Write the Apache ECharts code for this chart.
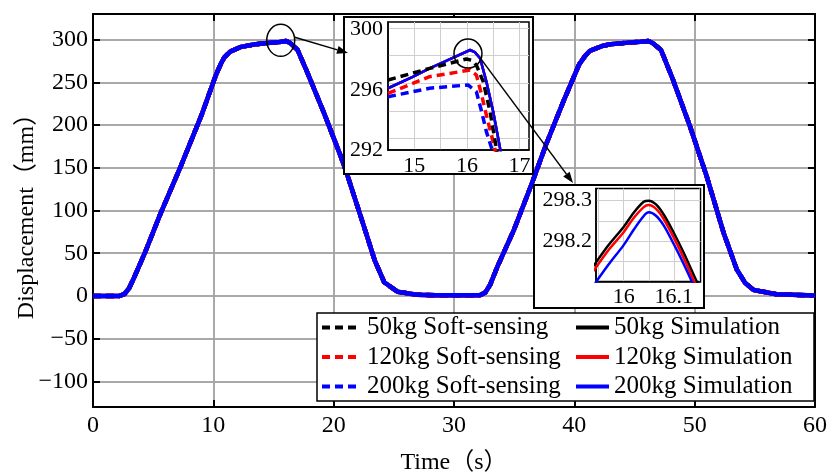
<!DOCTYPE html>
<html><head><meta charset="utf-8">
<script src="https://cdn.jsdelivr.net/npm/echarts@6/dist/echarts.min.js"></script>
<style>html,body{margin:0;padding:0;background:#fff}#c{width:835px;height:476px}</style>
</head><body><div id="c"></div>
<script>
// ---------- data ----------
const mainTime = [0, 2.2, 2.6, 3.0, 3.4, 4.3, 5.6, 7.3, 9.0, 10.2, 10.6, 10.9, 11.4, 12.3, 13.5, 14.5, 15.5, 16.05, 16.4, 17.0, 17.8, 19.2, 20.6, 21.1, 22.5, 23.4, 24.2, 25.3, 26.9, 28.5, 31.9, 32.2, 32.6, 33.0, 33.6, 35.0, 36.4, 37.7, 39.1, 40.4, 40.9, 41.3, 42.3, 43.0, 44.5, 45.5, 46.15, 46.5, 47.2, 48.2, 49.6, 51.0, 52.4, 53.5, 54.2, 54.9, 56.8, 60];
const mainDisp = [0, 0, 2, 9, 21, 50, 96, 152, 211, 258, 271, 279, 286, 291.5, 294.5, 296, 297.3, 298.3, 296, 288, 262, 214, 163, 143, 82, 42, 16, 5, 1.5, 0.8, 0.8, 1, 4, 13, 34, 78, 129, 179, 228, 271, 281, 287, 292.5, 294.5, 296.5, 297.5, 298.3, 296, 288, 253, 199, 140, 74, 31, 15, 7, 2, 0.5];

// inset 1 (zoom of first peak)
const in1SimTime = [14.5, 14.98, 15.29, 15.7, 16.06, 16.15, 16.25, 16.37, 16.5, 16.63, 16.7];
const in1Sim     = [296.10, 296.87, 297.42, 298.07, 298.64, 298.5, 298.09, 296.54, 294.54, 292.11, 290.8];
const in1Soft50Time = [14.5, 15.29, 15.99, 16.1, 16.18, 16.31, 16.44, 16.56, 16.62];
const in1Soft50     = [296.65, 297.42, 298.04, 297.95, 297.64, 296.54, 294.54, 292.11, 291.0];
const in1Soft120Time = [14.5, 15.29, 16.06, 16.18, 16.28, 16.4, 16.53, 16.6];
const in1Soft120     = [295.76, 296.87, 297.31, 296.98, 295.65, 293.88, 292.11, 291.0];
const in1Soft200Time = [14.5, 15.29, 16.02, 16.18, 16.28, 16.37, 16.47, 16.55];
const in1Soft200     = [295.54, 296.10, 296.32, 295.87, 294.54, 293.22, 292.11, 291.0];

// inset 2 (zoom of simulation peak)
const in2Time   = [15.94, 15.97, 16.0, 16.02, 16.04, 16.05, 16.065, 16.08, 16.1, 16.12, 16.14, 16.16];
const in2Sim50  = [298.138, 298.19, 298.235, 298.27, 298.297, 298.300, 298.29, 298.265, 298.22, 298.17, 298.115, 298.06];
const in2Sim120 = [298.126, 298.178, 298.222, 298.257, 298.284, 298.289, 298.279, 298.254, 298.208, 298.157, 298.102, 298.05];
const in2Sim200 = [298.09, 298.142, 298.19, 298.228, 298.262, 298.271, 298.262, 298.238, 298.192, 298.142, 298.088, 298.03];

const softNames = ['50kg Soft-sensing', '120kg Soft-sensing', '200kg Soft-sensing'];
const simNames  = ['50kg Simulation', '120kg Simulation', '200kg Simulation'];
const colors = ['#000000', '#ff0000', '#0000ff'];
const in1XLabels = ['15', '16', '17'];
const in1YLabels = ['292', '296', '300'];
const in2XLabels = ['16', '16.1'];
const in2YLabels = ['298.2', '298.3'];

// ---------- helpers ----------
const FONT = "'Liberation Serif', 'Noto Sans CJK SC', serif";
const pairs = (t, v) => t.map((x, i) => [x, v[i]]);
const DASH = [8, 5];
const GRIDC = '#a3a3a3';
const fmtPick = list => v => {
  const s = (Math.round(v * 100) / 100).toString();
  return list.indexOf(s) >= 0 ? s : '';
};

const series = [];
// main plot
softNames.forEach((n, i) => series.push({
  name: n, type: 'line', xAxisIndex: 0, yAxisIndex: 0, symbol: 'none', z: 2,
  data: pairs(mainTime, mainDisp),
  lineStyle: { color: colors[i], width: 4.5, type: DASH }, itemStyle: { color: colors[i] }
}));
simNames.forEach((n, i) => series.push({
  name: n, type: 'line', xAxisIndex: 0, yAxisIndex: 0, symbol: 'none', z: 2,
  data: pairs(mainTime, mainDisp),
  lineStyle: { color: colors[i], width: 4.5, type: 'solid' }, itemStyle: { color: colors[i] }
}));
// inset 1
simNames.forEach((n, i) => series.push({
  name: n, type: 'line', xAxisIndex: 2, yAxisIndex: 2, symbol: 'none', z: 7,
  data: pairs(in1SimTime, in1Sim),
  lineStyle: { color: colors[i], width: 2.5 }, itemStyle: { color: colors[i] }
}));
[[in1Soft200Time, in1Soft200, 2], [in1Soft120Time, in1Soft120, 1], [in1Soft50Time, in1Soft50, 0]].forEach(([t, v, i]) => series.push({
  name: softNames[i], type: 'line', xAxisIndex: 2, yAxisIndex: 2, symbol: 'none', z: 7,
  data: pairs(t, v),
  lineStyle: { color: colors[i], width: 3.5, type: DASH }, itemStyle: { color: colors[i] }
}));
// inset 2
[in2Sim50, in2Sim120, in2Sim200].forEach((v, i) => series.push({
  name: simNames[i], type: 'line', xAxisIndex: 3, yAxisIndex: 4, symbol: 'none', z: 7, smooth: 0.3,
  data: pairs(in2Time, v),
  lineStyle: { color: colors[i], width: 2.5 }, itemStyle: { color: colors[i] }
}));

const blackLine = () => ({ onZero: false, lineStyle: { color: '#000', width: 2 } });
const thinLine = () => ({ onZero: false, lineStyle: { color: '#000', width: 1.5 } });
const inTick = () => ({ inside: true, length: 7, lineStyle: { color: '#000', width: 2 } });
const minus = v => String(v).replace('-', '\u2212');
const mainSplit = () => ({ show: true, lineStyle: { color: GRIDC, width: 1.5 } });
const inSplit = () => ({ show: true, showMinLine: false, showMaxLine: false, lineStyle: { color: '#cfcfcf', width: 1 } });

const chart = echarts.init(document.getElementById('c'), null, { renderer: 'canvas' });
const legendCommon = {
  orient: 'vertical', itemHeight: 14, itemGap: 4.5, padding: 0,
  itemStyle: { opacity: 0 }, lineStyle: { width: 4 }, z: 4
};
const gridBase = { containLabel: false, outerBoundsMode: 'none' };
chart.setOption({
  animation: false,
  backgroundColor: '#fff',
  grid: [
    Object.assign({ left: 93, top: 14, width: 722, height: 393 }, gridBase),
    Object.assign({ left: 388, top: 22, width: 141, height: 128, show: true, borderColor: '#000', borderWidth: 1.5, backgroundColor: 'transparent', z: 6 }, gridBase),
    Object.assign({ left: 596, top: 188.5, width: 104.5, height: 93, show: true, borderColor: '#000', borderWidth: 1.5, backgroundColor: 'transparent', z: 6 }, gridBase),
    Object.assign({ left: 388, top: 28, width: 141, height: 110.4, show: false, z: 6 }, gridBase)
  ],
  xAxis: [
    { gridIndex: 0, type: 'value', min: 0, max: 60, interval: 10, position: 'bottom', z: 1,
      axisLine: blackLine(), axisTick: inTick(),
      axisLabel: { color: '#000', fontFamily: FONT, fontSize: 24, margin: 7 },
      splitLine: mainSplit(),
      name: 'Time（s）', nameLocation: 'middle', nameGap: 44, nameMoveOverlap: false,
      nameTextStyle: { color: '#000', fontFamily: FONT, fontSize: 24 } },
    { gridIndex: 0, type: 'value', min: 0, max: 60, interval: 10, position: 'top', z: 1,
      axisLine: blackLine(), axisTick: inTick(), axisLabel: { show: false }, splitLine: mainSplit() },
    { gridIndex: 1, type: 'value', min: 14.5, max: 17.18, interval: 0.5, z: 6,
      axisLine: thinLine(), axisTick: { show: false },
      axisLabel: { color: '#000', fontFamily: FONT, fontSize: 22, margin: 5, formatter: fmtPick(in1XLabels) },
      splitLine: inSplit() },
    { gridIndex: 2, type: 'value', min: 15.945, max: 16.153, splitNumber: 4, z: 6,
      axisLine: thinLine(), axisTick: { show: false },
      axisLabel: { color: '#000', fontFamily: FONT, fontSize: 22, margin: 5, formatter: fmtPick(in2XLabels) },
      splitLine: inSplit() },
    { gridIndex: 3, type: 'value', min: 0, max: 1, show: false }
  ],
  yAxis: [
    { gridIndex: 0, type: 'value', min: -130, max: 330, splitNumber: 9, minInterval: 50, maxInterval: 50, z: 1,
      axisLine: blackLine(), axisTick: inTick(),
      axisLabel: { color: '#000', fontFamily: FONT, fontSize: 24, margin: 5, showMinLabel: false, showMaxLabel: false, formatter: minus },
      splitLine: mainSplit(),
      name: 'Displacement（mm）', nameLocation: 'middle', nameGap: 54, nameMoveOverlap: false,
      nameTextStyle: { color: '#000', fontFamily: FONT, fontSize: 24 } },
    { gridIndex: 0, type: 'value', min: -130, max: 330, splitNumber: 9, minInterval: 50, maxInterval: 50, position: 'right', z: 1,
      axisLine: blackLine(), axisTick: inTick(), axisLabel: { show: false }, splitLine: mainSplit() },
    { gridIndex: 1, type: 'value', min: 292, max: 300.5, interval: 4, z: 6,
      axisLine: thinLine(), axisTick: { show: false },
      axisLabel: { color: '#000', fontFamily: FONT, fontSize: 22, margin: 5, showMaxLabel: false, formatter: fmtPick(in1YLabels) },
      splitLine: { show: false } },
    { gridIndex: 3, type: 'value', min: 0, max: 4, interval: 1, z: 6,
      axisLine: { show: false }, axisTick: { show: false }, axisLabel: { show: false },
      splitLine: { show: true, lineStyle: { color: '#cfcfcf', width: 1 } } },
    { gridIndex: 2, type: 'value', min: 298.1, max: 298.33, splitNumber: 4, z: 6,
      axisLine: thinLine(), axisTick: { show: false },
      axisLabel: { color: '#000', fontFamily: FONT, fontSize: 22, margin: 4, formatter: fmtPick(in2YLabels) },
      splitLine: inSplit() }
  ],
  legend: [
    Object.assign({}, legendCommon, { data: softNames, left: 320, top: 315, itemWidth: 35,
      textStyle: { color: '#000', fontFamily: FONT, fontSize: 25, lineHeight: 24, padding: [0, 0, 0, 5] } }),
    Object.assign({}, legendCommon, { data: simNames, left: 574, top: 315, itemWidth: 33,
      textStyle: { color: '#000', fontFamily: FONT, fontSize: 25, lineHeight: 24 } })
  ],
  series: series
});

// ---------- annotations (circles, arrows, inset frames, legend box) ----------
function arrow(p0, p1) {
  const dx = p1[0] - p0[0], dy = p1[1] - p0[1];
  const L = Math.hypot(dx, dy), ux = dx / L, uy = dy / L, nx = -uy, ny = ux;
  const b = [p1[0] - ux * 11, p1[1] - uy * 11];
  return [
    { type: 'line', shape: { x1: p0[0], y1: p0[1], x2: b[0], y2: b[1] }, style: { stroke: '#000', lineWidth: 1.5 }, z: 20 },
    { type: 'polygon', shape: { points: [p1, [b[0] + nx * 4, b[1] + ny * 4], [b[0] - nx * 4, b[1] - ny * 4]] }, style: { fill: '#000' }, z: 20 }
  ];
}
const c1 = chart.convertToPixel({ gridIndex: 0 }, [15.6, 299.2]);
const c2 = chart.convertToPixel({ gridIndex: 1 }, [16.02, 298.4]);
const box1 = { x: 344, y: 17, width: 189, height: 157 };
const box2 = { x: 534, y: 185, width: 170, height: 123 };
const elements = [
  { type: 'rect', shape: { x: 317, y: 313, width: 497, height: 88 }, style: { fill: '#fff', stroke: '#000', lineWidth: 1.5 }, z: 3 },
  { type: 'rect', shape: box1, style: { fill: '#fff', stroke: '#000', lineWidth: 2 }, z: 5 },
  { type: 'rect', shape: box2, style: { fill: '#fff', stroke: '#000', lineWidth: 2 }, z: 5 },
  { type: 'ellipse', shape: { cx: c1[0], cy: c1[1], rx: 14, ry: 16 }, style: { fill: null, stroke: '#000', lineWidth: 1.5 }, z: 20 },
  { type: 'ellipse', shape: { cx: c2[0], cy: c2[1], rx: 14, ry: 14.5 }, style: { fill: null, stroke: '#000', lineWidth: 1.5 }, z: 20 }
].concat(
  arrow([c1[0] + 14, c1[1] - 3], [box1.x + 4, 53]),
  arrow([c2[0] + 12, c2[1] + 4], [box2.x + 39, box2.y - 2])
);
chart.setOption({ graphic: { elements: elements } });
</script></body></html>
